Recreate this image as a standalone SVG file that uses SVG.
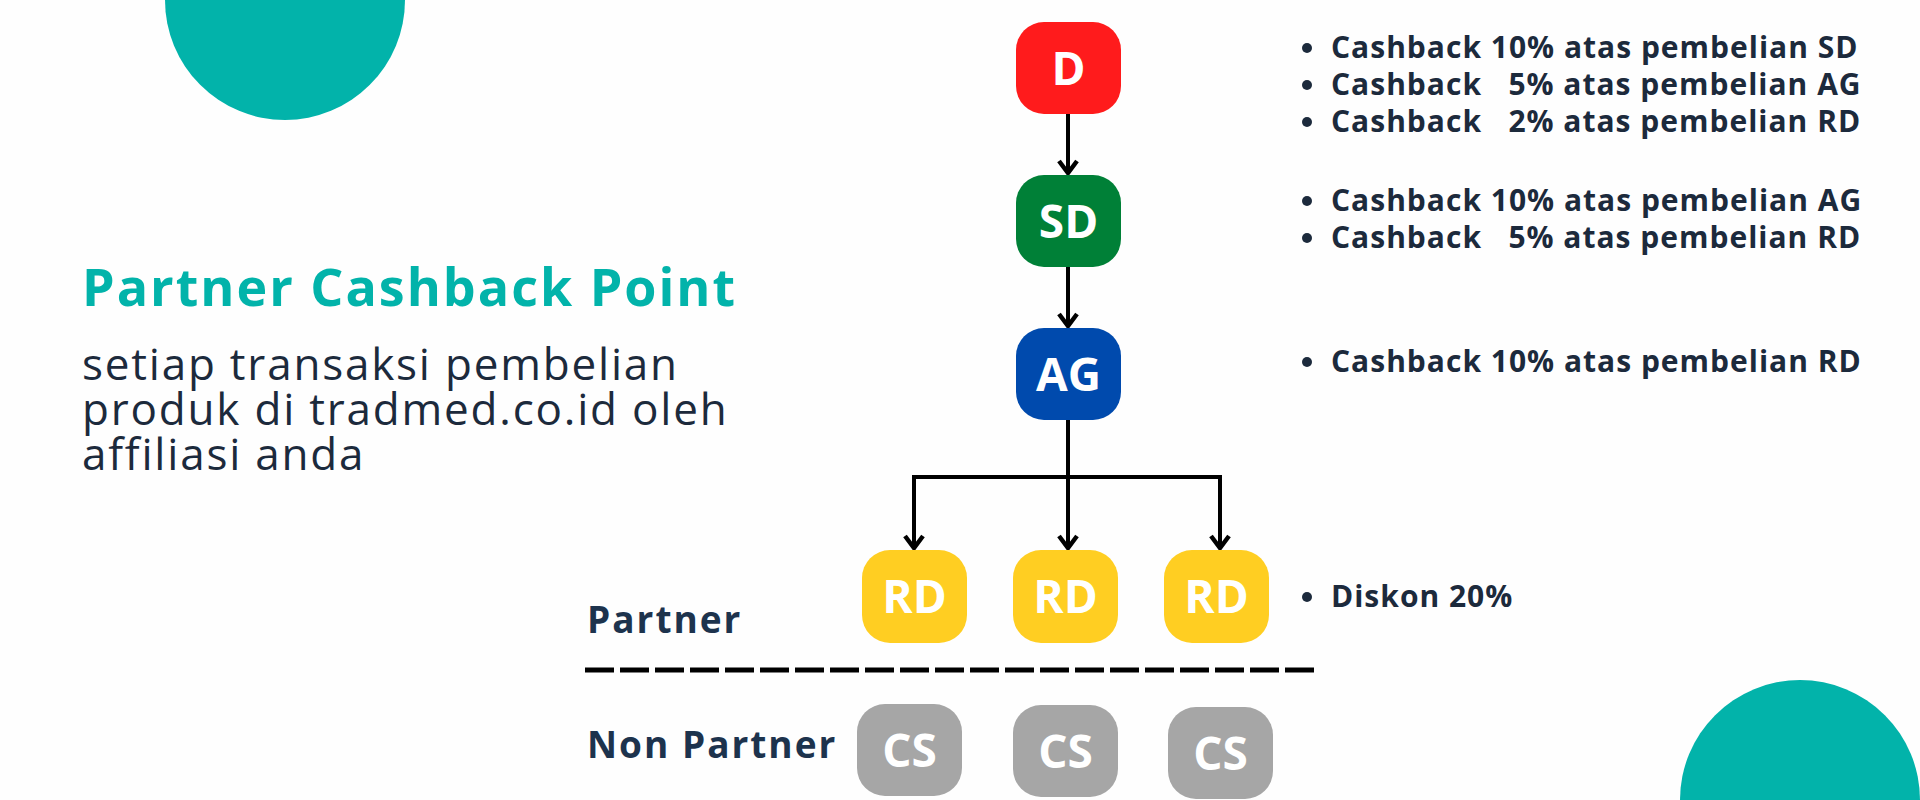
<svg xmlns="http://www.w3.org/2000/svg" width="1920" height="800" viewBox="0 0 1920 800">
<defs>
<style>
.bg{fill:#fefefe}
.deco{fill:#02b3aa}
.lbl{font-family:"Open Sans","Noto Sans",sans-serif;font-weight:700;font-size:46px;fill:#ffffff;text-anchor:middle}
.conn{stroke:#000;stroke-width:4;fill:none}
.title{font-family:"Open Sans","Noto Sans",sans-serif;font-weight:700;font-size:52px;letter-spacing:2px;fill:#02b3aa}
.sub{font-family:"Open Sans","Noto Sans",sans-serif;font-size:44px;letter-spacing:1.8px;fill:#1c2a3c}
.bul{font-family:"Open Sans","Noto Sans",sans-serif;font-weight:700;font-size:30px;letter-spacing:1px;fill:#1c2a3c;white-space:pre}
.side{font-family:"Open Sans","Noto Sans",sans-serif;font-weight:700;font-size:37px;letter-spacing:2px;fill:#1d334d}
.dot{fill:#1c2a3c}
</style>
<marker id="chev" markerUnits="userSpaceOnUse" markerWidth="30" markerHeight="30" refX="0" refY="0" orient="auto" overflow="visible" viewBox="-15 -15 30 30">
<path d="M-12,-9 L0,0 L-12,9" fill="none" stroke="#000" stroke-width="4.5"/>
</marker>
</defs>
<rect class="bg" x="0" y="0" width="1920" height="800"/>
<circle class="deco" cx="285" cy="0" r="120"/>
<circle class="deco" cx="1800" cy="800" r="120"/>

<g id="heading">
<text class="title" x="82" y="306">Partner Cashback Point</text>
<text class="sub" x="82" y="380">setiap transaksi pembelian</text>
<text class="sub" x="82" y="425">produk di tradmed.co.id oleh</text>
<text class="sub" x="82" y="470">affiliasi anda</text>
</g>

<g id="connectors">
<line class="conn" x1="1068" y1="114" x2="1068" y2="173" marker-end="url(#chev)"/>
<line class="conn" x1="1068" y1="267" x2="1068" y2="326" marker-end="url(#chev)"/>
<line class="conn" x1="1068" y1="420" x2="1068" y2="548" marker-end="url(#chev)"/>
<polyline class="conn" points="914,548 914,477 1220,477 1220,548"/>
<line class="conn" x1="914" y1="520" x2="914" y2="548" marker-end="url(#chev)"/>
<line class="conn" x1="1220" y1="520" x2="1220" y2="548" marker-end="url(#chev)"/>
</g>

<g id="node-D" class="node"><rect x="1016" y="22" width="105" height="92" rx="28" fill="#ff1b1c"/><text class="lbl" x="1068.5" y="85">D</text></g>
<g id="node-SD" class="node"><rect x="1016" y="175" width="105" height="92" rx="28" fill="#008037"/><text class="lbl" x="1068.5" y="238">SD</text></g>
<g id="node-AG" class="node"><rect x="1016" y="328" width="105" height="92" rx="28" fill="#004aad"/><text class="lbl" x="1068.5" y="391">AG</text></g>
<g id="node-RD1" class="node"><rect x="862" y="550" width="105" height="93" rx="28" fill="#ffce22"/><text class="lbl" x="914.5" y="613">RD</text></g>
<g id="node-RD2" class="node"><rect x="1013" y="550" width="105" height="93" rx="28" fill="#ffce22"/><text class="lbl" x="1065.5" y="613">RD</text></g>
<g id="node-RD3" class="node"><rect x="1164" y="550" width="105" height="93" rx="28" fill="#ffce22"/><text class="lbl" x="1216.5" y="613">RD</text></g>
<g id="node-CS1" class="node"><rect x="857" y="704" width="105" height="92" rx="28" fill="#a6a6a6"/><text class="lbl" x="909.5" y="767">CS</text></g>
<g id="node-CS2" class="node"><rect x="1013" y="705" width="105" height="92" rx="28" fill="#a6a6a6"/><text class="lbl" x="1065.5" y="768">CS</text></g>
<g id="node-CS3" class="node"><rect x="1168" y="707" width="105" height="92" rx="28" fill="#a6a6a6"/><text class="lbl" x="1220.5" y="770">CS</text></g>

<g id="divider">
<line x1="585" y1="670" x2="1315" y2="670" stroke="#000" stroke-width="5" stroke-dasharray="29 6"/>
<text class="side" x="587" y="633">Partner</text>
<text class="side" x="587" y="758">Non Partner</text>
</g>

<g id="notes">
<circle class="dot" cx="1307" cy="48" r="5"/><text class="bul" x="1331" y="58" xml:space="preserve">Cashback 10% atas pembelian SD</text>
<circle class="dot" cx="1307" cy="85" r="5"/><text class="bul" x="1331" y="95" xml:space="preserve">Cashback   5% atas pembelian AG</text>
<circle class="dot" cx="1307" cy="122" r="5"/><text class="bul" x="1331" y="132" xml:space="preserve">Cashback   2% atas pembelian RD</text>
<circle class="dot" cx="1307" cy="201" r="5"/><text class="bul" x="1331" y="211" xml:space="preserve">Cashback 10% atas pembelian AG</text>
<circle class="dot" cx="1307" cy="238" r="5"/><text class="bul" x="1331" y="248" xml:space="preserve">Cashback   5% atas pembelian RD</text>
<circle class="dot" cx="1307" cy="362" r="5"/><text class="bul" x="1331" y="372" xml:space="preserve">Cashback 10% atas pembelian RD</text>
<circle class="dot" cx="1307" cy="597" r="5"/><text class="bul" x="1331" y="607" xml:space="preserve">Diskon 20%</text>
</g>
</svg>
